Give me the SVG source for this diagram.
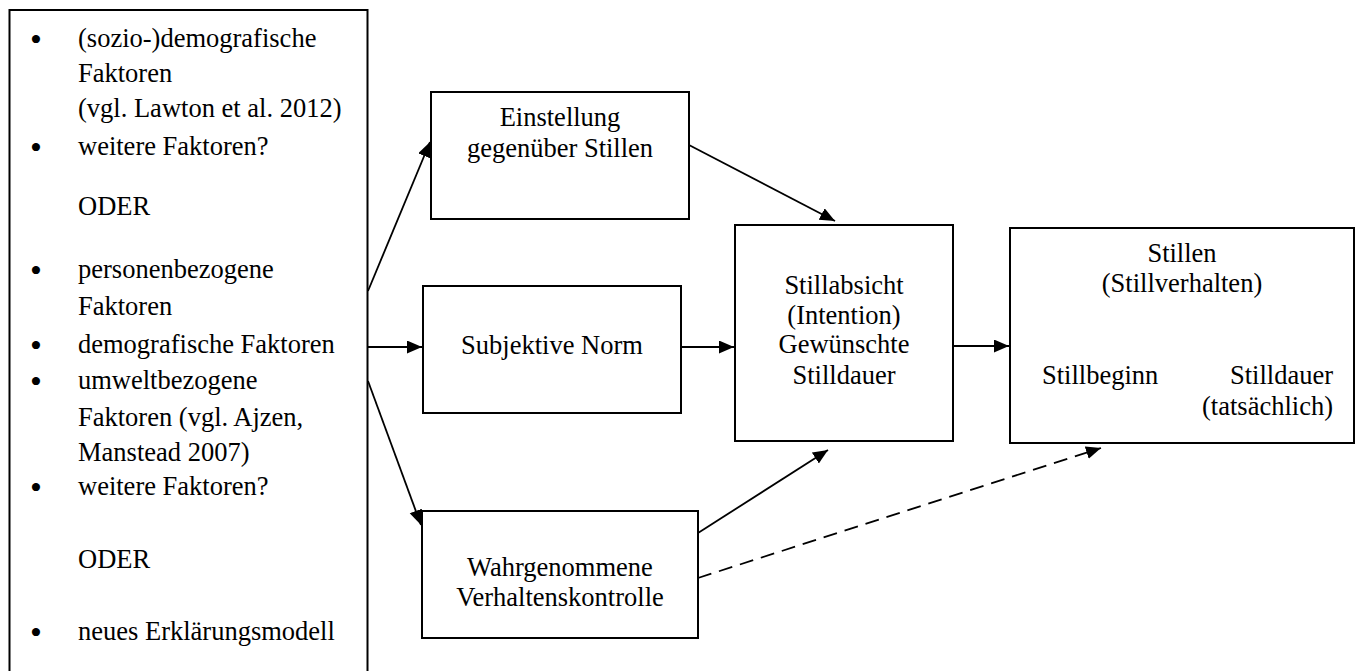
<svg xmlns="http://www.w3.org/2000/svg" width="1358" height="671" viewBox="0 0 1358 671">
  <style>
    .box { fill: #ffffff; stroke: #000000; stroke-width: 2; }
    .t { font-size: 26.5px; fill: #000000; }
    .c { text-anchor: middle; }
    .e { text-anchor: end; }
    .b { font-size: 34px; }
    .edge { stroke: #000000; stroke-width: 1.8; fill: none; marker-end: url(#arrow); }
    .dash { stroke-dasharray: 14 8; }
  </style>
  <defs>
    <marker id="arrow" markerUnits="userSpaceOnUse" markerWidth="16" markerHeight="14" refX="15" refY="6.5" orient="auto">
      <path d="M0,0 L15,6.5 L0,13 Z" fill="#000000"/>
    </marker>
  </defs>
  <rect width="1358" height="671" fill="#ffffff"/>

  <!-- connectors -->
  <g id="connectors">
    <line class="edge" x1="368" y1="291" x2="430" y2="142"/>
    <line class="edge" x1="368" y1="347" x2="422" y2="347"/>
    <line class="edge" x1="368" y1="381" x2="421" y2="525"/>
    <line class="edge" x1="689" y1="145" x2="835" y2="221"/>
    <line class="edge" x1="681" y1="347" x2="734" y2="347"/>
    <line class="edge" x1="953" y1="346" x2="1009" y2="346"/>
    <line class="edge" x1="698" y1="533" x2="828" y2="450"/>
    <line class="edge dash" x1="698" y1="578" x2="1101" y2="448"/>
  </g>

  <g font-family="'Liberation Serif', 'Times New Roman', Times, 'DejaVu Serif', serif">
  <!-- factor list -->
  <g id="factors">
    <rect class="box" x="9.5" y="10" width="358" height="700"/>
    <text class="t b" x="30" y="51">•</text>
    <text class="t" x="78" y="47">(sozio-)demografische</text>
    <text class="t" x="78" y="82">Faktoren</text>
    <text class="t" x="78" y="117">(vgl. Lawton et al. 2012)</text>
    <text class="t b" x="30" y="159">•</text>
    <text class="t" x="78" y="155">weitere Faktoren?</text>
    <text class="t" x="78" y="215">ODER</text>
    <text class="t b" x="30" y="282">•</text>
    <text class="t" x="78" y="278">personenbezogene</text>
    <text class="t" x="78" y="315">Faktoren</text>
    <text class="t b" x="30" y="357">•</text>
    <text class="t" x="78" y="353">demografische Faktoren</text>
    <text class="t b" x="30" y="393">•</text>
    <text class="t" x="78" y="389">umweltbezogene</text>
    <text class="t" x="78" y="426">Faktoren (vgl. Ajzen,</text>
    <text class="t" x="78" y="461">Manstead 2007)</text>
    <text class="t b" x="30" y="499">•</text>
    <text class="t" x="78" y="495">weitere Faktoren?</text>
    <text class="t" x="78" y="568">ODER</text>
    <text class="t b" x="30" y="644">•</text>
    <text class="t" x="78" y="640">neues Erklärungsmodell</text>
  </g>

  <g id="einstellung">
    <rect class="box" x="431" y="92" width="258" height="127"/>
    <text class="t c" x="560" y="126">Einstellung</text>
    <text class="t c" x="560" y="157">gegenüber Stillen</text>
  </g>

  <g id="norm">
    <rect class="box" x="423" y="286" width="258" height="127"/>
    <text class="t c" x="552" y="354">Subjektive Norm</text>
  </g>

  <g id="kontrolle">
    <rect class="box" x="422" y="511" width="276" height="127"/>
    <text class="t c" x="560" y="576">Wahrgenommene</text>
    <text class="t c" x="560" y="606">Verhaltenskontrolle</text>
  </g>

  <g id="absicht">
    <rect class="box" x="735" y="225" width="218" height="216"/>
    <text class="t c" x="844" y="294">Stillabsicht</text>
    <text class="t c" x="844" y="324">(Intention)</text>
    <text class="t c" x="844" y="353">Gewünschte</text>
    <text class="t c" x="844" y="384">Stilldauer</text>
  </g>

  <g id="stillen">
    <rect class="box" x="1010" y="228" width="344" height="215"/>
    <text class="t c" x="1182" y="262">Stillen</text>
    <text class="t c" x="1182" y="292">(Stillverhalten)</text>
    <text class="t" x="1042" y="384">Stillbeginn</text>
    <text class="t e" x="1333" y="384">Stilldauer</text>
    <text class="t e" x="1333" y="415">(tatsächlich)</text>
  </g>
  </g>
</svg>
